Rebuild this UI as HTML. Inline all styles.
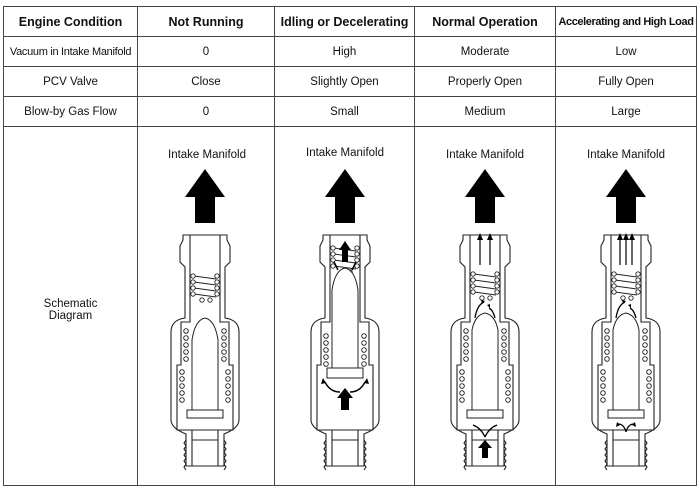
<!DOCTYPE html>
<html><head><meta charset="utf-8"><style>
body{margin:0;background:#fff;width:700px;height:491px;overflow:hidden}
table{position:absolute;left:3px;top:6px;border-collapse:collapse;font-family:"Liberation Sans",sans-serif;font-size:11.5px;color:#111;table-layout:fixed}
td{border:1.3px solid #444;text-align:center;padding:0;white-space:nowrap;overflow:hidden}
th{border:1.3px solid #444;font-weight:bold;font-size:12.5px;height:29px;padding:0;white-space:nowrap;overflow:hidden}
svg{position:absolute;left:0;top:0}
</style></head><body>
<table>
<tr><th style="width:133px">Engine Condition</th><th style="width:136px">Not Running</th><th style="width:139px">Idling or Decelerating</th><th style="width:140px">Normal Operation</th><th style="width:140px;font-size:11px;letter-spacing:-0.4px">Accelerating and High Load</th></tr>
<tr style="height:30px"><td style="font-size:11px;letter-spacing:-0.3px">Vacuum in Intake Manifold</td><td>0</td><td>High</td><td>Moderate</td><td>Low</td></tr>
<tr style="height:30px"><td>PCV Valve</td><td>Close</td><td>Slightly Open</td><td>Properly Open</td><td>Fully Open</td></tr>
<tr style="height:30px"><td>Blow-by Gas Flow</td><td>0</td><td>Small</td><td>Medium</td><td>Large</td></tr>
<tr style="height:359px"><td style="padding-top:8px">Schematic<br>Diagram</td><td></td><td></td><td></td><td></td></tr>
</table>
<svg width="700" height="491" viewBox="0 0 700 491">
<defs>
<g id="body" fill="none" stroke="#222" stroke-width="1.1">
<path d="M-22,235 L22,235 L22,240 L25,246 L25,262 L20,267 L20,318 Q34,320 34,332 L34,420 Q34,428 19,434 L19,466 L-19,466 L-19,434 Q-34,428 -34,420 L-34,332 Q-34,320 -20,318 L-20,267 L-25,262 L-25,246 L-22,240 Z" fill="#fff"/>
<path d="M-15,235 L-15,240 M15,235 L15,240"/>
<path d="M-15,240 L-15,322 L-24,322 L-24,365 L-28,365 L-28,430 L28,430 L28,365 L24,365 L24,322 L15,322 L15,240"/>
<path d="M-13,430 L-13,466 M13,430 L13,466 M-13,440 L13,440"/>
<path d="M19,440 l2,3 -2,3 2,3 -2,3 2,3 -2,3 2,3 -2,3 2,3 -2,3 M-19,440 l-2,3 2,3 -2,3 2,3 -2,3 2,3 -2,3 2,3 -2,3 2,3"/>
</g>
<g id="coil" fill="#fff" stroke="#222" stroke-width="0.9">
<circle cx="0" cy="0" r="2.3"/><circle cx="0" cy="7" r="2.3"/><circle cx="0" cy="14" r="2.3"/><circle cx="0" cy="21" r="2.3"/><circle cx="0" cy="28" r="2.3"/>
</g>
<g id="tspring" fill="none" stroke="#222" stroke-width="0.9">
<path d="M-11,0 L11,3 M-11,6 L11,9 M-11,12 L11,15 M-11,18 L11,21"/>
<g fill="#fff"><circle cx="-12" cy="0" r="2.2"/><circle cx="-12" cy="6" r="2.2"/><circle cx="-12" cy="12" r="2.2"/><circle cx="-12" cy="18" r="2.2"/><circle cx="12" cy="0" r="2.2"/><circle cx="12" cy="6" r="2.2"/><circle cx="12" cy="12" r="2.2"/><circle cx="12" cy="18" r="2.2"/><circle cx="-3" cy="24" r="2.2"/><circle cx="5" cy="24" r="2.2"/></g>
</g>
<g id="big"><path d="M0,-54 L20,-26 L10,-26 L10,0 L-10,0 L-10,-26 L-20,-26 Z" fill="#000"/></g>
<g id="coils4"><use href="#coil" transform="translate(-19,331)"/><use href="#coil" transform="translate(19,331)"/><use href="#coil" transform="translate(-23,372)"/><use href="#coil" transform="translate(23,372)"/></g>
</defs>
<g font-family="Liberation Sans, sans-serif" font-size="11.5" fill="#111" text-anchor="middle">
<text x="207" y="158">Intake Manifold</text>
<text x="345" y="156">Intake Manifold</text>
<text x="485" y="158">Intake Manifold</text>
<text x="626" y="158">Intake Manifold</text>
</g>
<use href="#big" x="205" y="223"/><use href="#big" x="345" y="223"/><use href="#big" x="485" y="223"/><use href="#big" x="626" y="223"/>

<g transform="translate(205,0)">
<use href="#body"/>
<use href="#tspring" transform="translate(0,276)"/>
<path d="M-13,410 L-13,340 Q-10,320 0,318 Q10,320 13,340 L13,410" fill="#fff" stroke="#222" stroke-width="1"/>
<rect x="-18" y="410" width="36" height="8" fill="#fff" stroke="#222"/>
<use href="#coils4"/>
</g>
<g transform="translate(345,0)">
<use href="#body"/>
<use href="#tspring" transform="translate(0,248)"/>
<path d="M-13,378 L-13,290 Q-10,270 0,268 Q10,270 13,290 L13,378" fill="#fff" stroke="#222" stroke-width="1"/>
<rect x="-18" y="368" width="36" height="10" fill="#fff" stroke="#222"/>
<use href="#coil" transform="translate(-19,336)"/><use href="#coil" transform="translate(19,336)"/>
<path d="M-3,262 L-3,250 L-6,250 L0,241 L6,250 L3,250 L3,262 Z" fill="#000"/>
<path d="M-7,270 L-11,262 M7,270 L11,262" stroke="#000" stroke-width="1.5"/>
<path d="M-4,398 L-4,410 L4,410 L4,398 L8,398 L0,388 L-8,398 Z" fill="#000"/>
<path d="M-5,392 Q-15,392 -20,382 M5,392 Q15,392 20,382" fill="none" stroke="#000" stroke-width="1.4"/>
<path d="M-22,378 l-2,6 5,-1 Z M22,378 l2,6 -5,-1 Z" fill="#000"/>
</g>
<g transform="translate(485,0)">
<use href="#body"/>
<use href="#tspring" transform="translate(0,274)"/>
<path d="M-13,410 L-13,330 Q-10,315 0,313 Q10,315 13,330 L13,410" fill="#fff" stroke="#222" stroke-width="1"/>
<rect x="-18" y="410" width="36" height="8" fill="#fff" stroke="#222"/>
<use href="#coils4"/>
<path d="M-5,265 L-5,238 M5,265 L5,238" stroke="#000" stroke-width="1.2"/>
<path d="M-8,240 L-5,233 L-2,240 Z M2,240 L5,233 L8,240 Z" fill="#000"/>
<path d="M-10,318 Q-8,305 -1,302 M10,318 Q8,310 4,308" fill="none" stroke="#000" stroke-width="1.3"/>
<path d="M-4,300 l4,1 -3,3 Z M2,305 l3,3 0,-4 Z" fill="#000"/>
<path d="M-3,448 L-3,458 L3,458 L3,448 L7,448 L0,440 L-7,448 Z" fill="#000"/>
<path d="M0,437 Q-4,428 -12,425 M0,437 Q4,428 12,425" fill="none" stroke="#000" stroke-width="1.3"/>
</g>
<g transform="translate(626,0)">
<use href="#body"/>
<use href="#tspring" transform="translate(0,274)"/>
<path d="M-13,410 L-13,330 Q-10,315 0,313 Q10,315 13,330 L13,410" fill="#fff" stroke="#222" stroke-width="1"/>
<rect x="-18" y="410" width="36" height="8" fill="#fff" stroke="#222"/>
<use href="#coils4"/>
<path d="M-6,265 L-6,238 M0,265 L0,238 M6,265 L6,238" stroke="#000" stroke-width="1.2"/>
<path d="M-9,240 L-6,233 L-3,240 Z M-3,240 L0,233 L3,240 Z M3,240 L6,233 L9,240 Z" fill="#000"/>
<path d="M-10,318 Q-8,305 -1,302 M10,318 Q8,310 4,308" fill="none" stroke="#000" stroke-width="1.3"/>
<path d="M-4,300 l4,1 -3,3 Z M2,305 l3,3 0,-4 Z" fill="#000"/>
<path d="M0,432 Q-2,424 -8,424 M0,432 Q2,424 8,424" fill="none" stroke="#000" stroke-width="1.3"/>
<path d="M-10,427 l1,-5 3,3 Z M10,427 l-1,-5 -3,3 Z" fill="#000"/>
</g>
</svg>
</body></html>
